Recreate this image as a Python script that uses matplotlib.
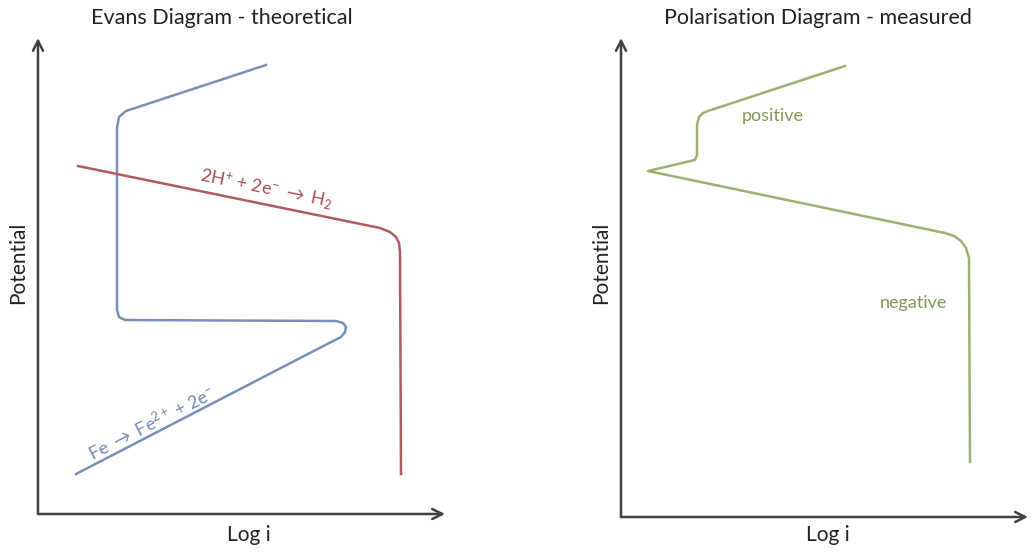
import matplotlib.pyplot as plt

plt.rcParams['font.family'] = ['Lato', 'DejaVu Sans']
plt.rcParams['mathtext.fontset'] = 'custom'
plt.rcParams['mathtext.rm'] = 'Lato'
plt.rcParams['mathtext.it'] = 'Lato'
plt.rcParams['mathtext.default'] = 'regular'

W, H = 1033, 556

# curve points (pixel positions)
fe_x = [76, 335, 341, 345, 346, 343, 336, 125, 119, 117, 117, 119, 126, 266]
fe_y = [474, 340, 337, 332, 327, 323, 321, 320, 317, 310, 128, 117, 111, 65]

h2_x = [78, 380, 390, 396, 399, 400, 401]
h2_y = [166, 228, 232, 237, 243, 252, 474]

meas_x = [970, 969, 966, 961, 954, 945, 648, 695, 697, 697, 699, 703, 708, 845]
meas_y = [462, 258, 248, 241, 236, 233, 171, 160, 155, 125, 117, 113, 111, 66]

blue = '#7890b8'
red = '#b05c5c'
green = '#9cb072'
axis_col = '#404040'
text_col = '#222222'

fig = plt.figure(figsize=(W / 100, H / 100), dpi=100)


def make_panel(x0, y0, x1, y1, title, title_x, label_x):
    ax = fig.add_axes([x0 / W, 1 - y0 / H, (x1 - x0) / W, (y0 - y1) / H])
    ax.set_xlim(x0, x1)
    ax.set_ylim(y0, y1)
    ax.axis('off')
    arrow = dict(arrowstyle='->', color=axis_col, lw=1.8, mutation_scale=18,
                 shrinkA=0, shrinkB=0)
    ax.annotate('', xy=(1, 0), xytext=(0, 0), xycoords='axes fraction',
                arrowprops=arrow, annotation_clip=False)
    ax.annotate('', xy=(0, 1), xytext=(0, 0), xycoords='axes fraction',
                arrowprops=arrow, annotation_clip=False)
    fig.text(title_x / W, 1 - 18 / H, title, ha='center', va='center',
             fontsize=15.5, color=text_col)
    fig.text((x0 - 20) / W, 1 - 263 / H, 'Potential', rotation=90,
             ha='center', va='center', fontsize=15, color=text_col)
    fig.text(label_x / W, 1 - 535 / H, 'Log i', ha='center', va='center',
             fontsize=15, color=text_col)
    return ax


ax1 = make_panel(38, 514, 445, 38, 'Evans Diagram - theoretical', 222, 249)
ax1.plot(fe_x, fe_y, color=blue, lw=1.8, solid_joinstyle='round')
ax1.plot(h2_x, h2_y, color=red, lw=1.8, solid_joinstyle='round')
ax1.text(266, 189, r'2H$^{+}$ + 2e$^{-}$ $\rightarrow$ H$_{2}$', color='#a85050',
         fontsize=13, rotation=-11.5, ha='center', va='center',
         rotation_mode='anchor')
ax1.text(152, 423, r'Fe $\rightarrow$ Fe$^{2+}$ + 2e$^{-}$', color='#7088b8',
         fontsize=13, rotation=27, ha='center', va='center',
         rotation_mode='anchor')

ax2 = make_panel(621, 517, 1028, 38, 'Polarisation Diagram - measured', 818, 828)
ax2.plot(meas_x, meas_y, color=green, lw=1.8, solid_joinstyle='round')
ax2.text(773, 116, 'positive', color='#809a58', fontsize=13,
         ha='center', va='center')
ax2.text(913, 303, 'negative', color='#809a58', fontsize=13,
         ha='center', va='center')

fig.savefig('out.png', dpi=100)
